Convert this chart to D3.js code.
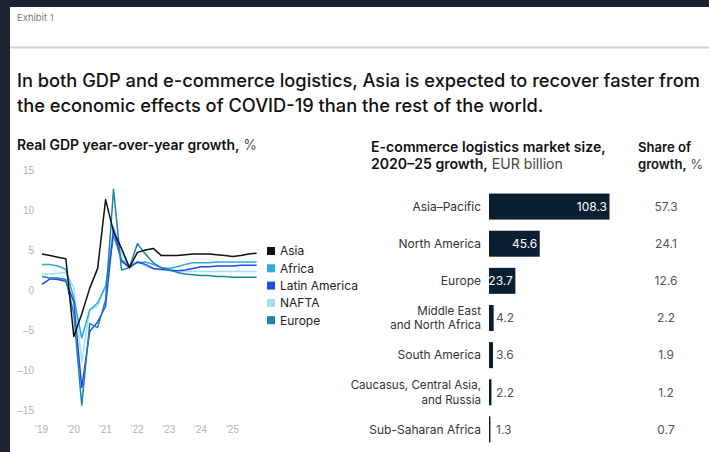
<!DOCTYPE html>
<html>
<head>
<meta charset="utf-8">
<script src="https://cdn.jsdelivr.net/npm/d3@7"></script>
<style>
  html, body { margin: 0; padding: 0; background: #1c2434; }
  svg { display: block; font-family: Inter, Roboto, "Liberation Sans", Arial, sans-serif; }
</style>
</head>
<body>
<svg id="chart" width="709" height="452"></svg>
<script>
// ---- GDP panel data (quarterly, real GDP y/y growth, %) ----
const quarters = [
  2019.00, 2019.25, 2019.50, 2019.75,
  2020.00, 2020.25, 2020.50, 2020.75,
  2021.00, 2021.25, 2021.50, 2021.75,
  2022.00, 2022.25, 2022.50, 2022.75,
  2023.00, 2023.25, 2023.50, 2023.75,
  2024.00, 2024.25, 2024.50, 2024.75,
  2025.00, 2025.25, 2025.50, 2025.75
];
const asia   = [4.5, 4.3, 4.1, 3.9, -5.8, -3.0, 0.2, 2.7, 11.3, 7.3, 5.2, 2.8, 4.7, 5.0, 5.2, 4.3, 4.3, 4.3, 4.4, 4.5, 4.5, 4.5, 4.4, 4.3, 4.2, 4.3, 4.5, 4.6];
const africa = [3.2, 3.2, 3.0, 2.6, -1.0, -6.0, -2.5, -1.6, 0.5, 6.8, 3.8, 3.0, 3.4, 3.5, 3.2, 2.8, 2.7, 2.9, 3.2, 3.4, 3.4, 3.4, 3.5, 3.5, 3.5, 3.5, 3.5, 3.5];
const latam  = [0.7, 1.4, 1.3, 1.1, -1.5, -12.2, -5.2, -4.0, -2.0, 7.6, 3.6, 2.8, 3.5, 3.2, 2.7, 2.6, 2.5, 2.4, 2.5, 2.7, 2.9, 2.9, 3.0, 3.0, 3.0, 3.1, 3.1, 3.1];
const nafta  = [2.0, 2.0, 2.1, 2.2, 0.3, -9.0, -2.5, -2.0, 0.5, 8.0, 4.5, 3.0, 3.6, 3.0, 2.6, 2.5, 2.4, 2.3, 2.3, 2.3, 2.3, 2.3, 2.3, 2.3, 2.3, 2.3, 2.3, 2.3];
const europe = [1.7, 1.5, 1.5, 1.3, -3.0, -14.4, -4.2, -4.7, -1.2, 12.6, 2.5, 2.8, 5.8, 4.5, 3.4, 2.8, 2.5, 2.2, 2.0, 1.9, 1.8, 1.8, 1.7, 1.7, 1.6, 1.6, 1.6, 1.6];

const seriesNames  = ["Asia", "Africa", "Latin America", "NAFTA", "Europe"];
const seriesColors = ["#111111", "#2ea9e1", "#2149f0", "#a3def2", "#1c84a4"];
const yTicks = [15, 10, 5, 0, -5, -10, -15];
const xYears = [2019, 2020, 2021, 2022, 2023, 2024, 2025];

// ---- E-commerce logistics panel data ----
const regions = ["Asia–Pacific", "North America", "Europe", "Middle East\nand North Africa",
                 "South America", "Caucasus, Central Asia,\nand Russia", "Sub-Saharan Africa"];
const marketGrowth = [108.3, 45.6, 23.7, 4.2, 3.6, 2.2, 1.3];
const shareOfGrowth = [57.3, 24.1, 12.6, 2.2, 1.9, 1.2, 0.7];

const svg = d3.select("#chart");
const W = 709, H = 452;

// scale a text element's font-size so that it spans the given width
function fitWidth(sel, width) {
  const fs = parseFloat(sel.attr("font-size"));
  const w = sel.node().getComputedTextLength();
  if (w > 0) sel.attr("font-size", (fs * width / w).toFixed(2));
}

// dark frame and white card
svg.append("rect").attr("width", W).attr("height", H).attr("fill", "#1c2434");
svg.append("rect").attr("x", 10).attr("y", 7).attr("width", W - 10).attr("height", H - 7).attr("fill", "#ffffff");

// header
svg.append("text").attr("x", 17).attr("y", 21).attr("font-size", 9.5).attr("fill", "#7a7a7a").text("Exhibit 1");
svg.append("rect").attr("x", 10).attr("y", 46.5).attr("width", W - 10).attr("height", 2).attr("fill", "#d4d4d4");

const t1 = svg.append("text").attr("x", 17).attr("y", 87).attr("font-size", 17.5).attr("font-weight", 500).attr("fill", "#111")
  .text("In both GDP and e-commerce logistics, Asia is expected to recover faster from");
fitWidth(t1, 683);
svg.append("text").attr("x", 17).attr("y", 112).attr("font-size", t1.attr("font-size")).attr("font-weight", 500).attr("fill", "#111")
  .text("the economic effects of COVID-19 than the rest of the world.");

// ---- left panel: line chart ----
const sub = svg.append("text").attr("x", 17).attr("y", 150).attr("font-size", 13).attr("fill", "#111");
sub.append("tspan").attr("font-weight", 600).text("Real GDP year-over-year growth,");
sub.append("tspan").attr("fill", "#555").attr("font-weight", 400).text(" %");
fitWidth(sub, 240);

const x = d3.scaleLinear().domain([2019, 2026]).range([42, 264.6]);
const y = d3.scaleLinear().domain([-15, 15]).range([410, 170]);

const yAxis = d3.axisLeft(y).tickValues(yTicks).tickSize(0).tickPadding(0)
  .tickFormat(d => d < 0 ? "–" + Math.abs(d) : String(d));
const gy = svg.append("g").attr("transform", "translate(34,0)").call(yAxis);
gy.select(".domain").remove();
gy.selectAll("text").attr("font-size", 10).attr("fill", "#b3b3b3").attr("font-family", "inherit");

const xAxis = d3.axisBottom(x).tickValues(xYears).tickSize(0).tickPadding(0)
  .tickFormat(d => "’" + String(d).slice(2));
const gx = svg.append("g").attr("transform", "translate(-1,426)").call(xAxis);
gx.select(".domain").remove();
gx.selectAll("text").attr("font-size", 10).attr("fill", "#b3b3b3").attr("font-family", "inherit");

const allSeries = [asia, africa, latam, nafta, europe];
const line = d3.line().x((d, i) => x(quarters[i])).y(d => y(d));
// draw back-to-front so Asia sits on top
const drawOrder = [3, 1, 2, 4, 0];
drawOrder.forEach(k => {
  svg.append("path").datum(allSeries[k]).attr("d", line)
    .attr("fill", "none").attr("stroke", seriesColors[k]).attr("stroke-width", 1.5)
    .attr("stroke-linejoin", "round");
});

// legend
const legend = svg.append("g").attr("transform", "translate(267,251)");
seriesNames.forEach((name, i) => {
  const g = legend.append("g").attr("transform", `translate(0,${i * 17.3})`);
  g.append("rect").attr("x", 0).attr("y", -4).attr("width", 8).attr("height", 8).attr("fill", seriesColors[i]);
  g.append("text").attr("x", 13).attr("y", 4.3).attr("font-size", 12).attr("fill", "#222").text(name);
});

// ---- right panel: bars ----
const h1a = svg.append("text").attr("x", 371).attr("y", 152).attr("font-size", 13).attr("font-weight", 600).attr("fill", "#111")
  .text("E-commerce logistics market size,");
fitWidth(h1a, 235);
const hfs = h1a.attr("font-size");
const h1b = svg.append("text").attr("x", 371).attr("y", 169).attr("font-size", hfs).attr("fill", "#111");
h1b.append("tspan").attr("font-weight", 600).text("2020–25 growth,");
h1b.append("tspan").attr("fill", "#444").text(" EUR billion");

const h2a = svg.append("text").attr("x", 638).attr("y", 152).attr("font-size", hfs).attr("font-weight", 600).attr("fill", "#111").text("Share of");
fitWidth(h2a, 53);
const h2b = svg.append("text").attr("x", 638).attr("y", 169).attr("font-size", h2a.attr("font-size")).attr("fill", "#111");
h2b.append("tspan").attr("font-weight", 600).text("growth,");
h2b.append("tspan").attr("fill", "#555").text(" %");

const band = d3.scaleBand().domain(regions).range([188, 448]).paddingInner(0.3).paddingOuter(0.15);
const xb = d3.scaleLinear().domain([0, 108.3]).range([489, 609.5]);

const rows = svg.append("g").selectAll("g").data(regions).join("g")
  .attr("transform", d => `translate(0,${band(d)})`);
const bh = band.bandwidth();

rows.append("rect")
  .attr("x", xb(0)).attr("y", 0)
  .attr("width", (d, i) => xb(marketGrowth[i]) - xb(0))
  .attr("height", bh).attr("fill", "#0b1f33");

rows.append("text")
  .attr("x", (d, i) => marketGrowth[i] > 20 ? xb(marketGrowth[i]) - 2.5 : xb(0) + 7)
  .attr("y", bh / 2 + 4.3)
  .attr("text-anchor", (d, i) => marketGrowth[i] > 20 ? "end" : "start")
  .attr("font-size", 12)
  .attr("fill", (d, i) => marketGrowth[i] > 20 ? "#ffffff" : "#555")
  .text((d, i) => marketGrowth[i].toFixed(1));

// region names, right-aligned; two-line names stacked around the row centre
rows.each(function (d) {
  const lines = d.split("\n");
  const g = d3.select(this);
  const lh = 14.2;
  lines.forEach((ln, j) => {
    g.append("text").attr("x", 481).attr("text-anchor", "end")
      .attr("font-size", lines.length > 1 ? 11.6 : 12).attr("fill", "#333")
      .attr("y", bh / 2 + 4.2 + (j - (lines.length - 1) / 2) * lh)
      .text(ln);
  });
});

rows.append("text")
  .attr("x", 666).attr("y", bh / 2 + 4.3).attr("text-anchor", "middle")
  .attr("font-size", 12).attr("fill", "#555")
  .text((d, i) => shareOfGrowth[i].toFixed(1));
</script>
</body>
</html>
